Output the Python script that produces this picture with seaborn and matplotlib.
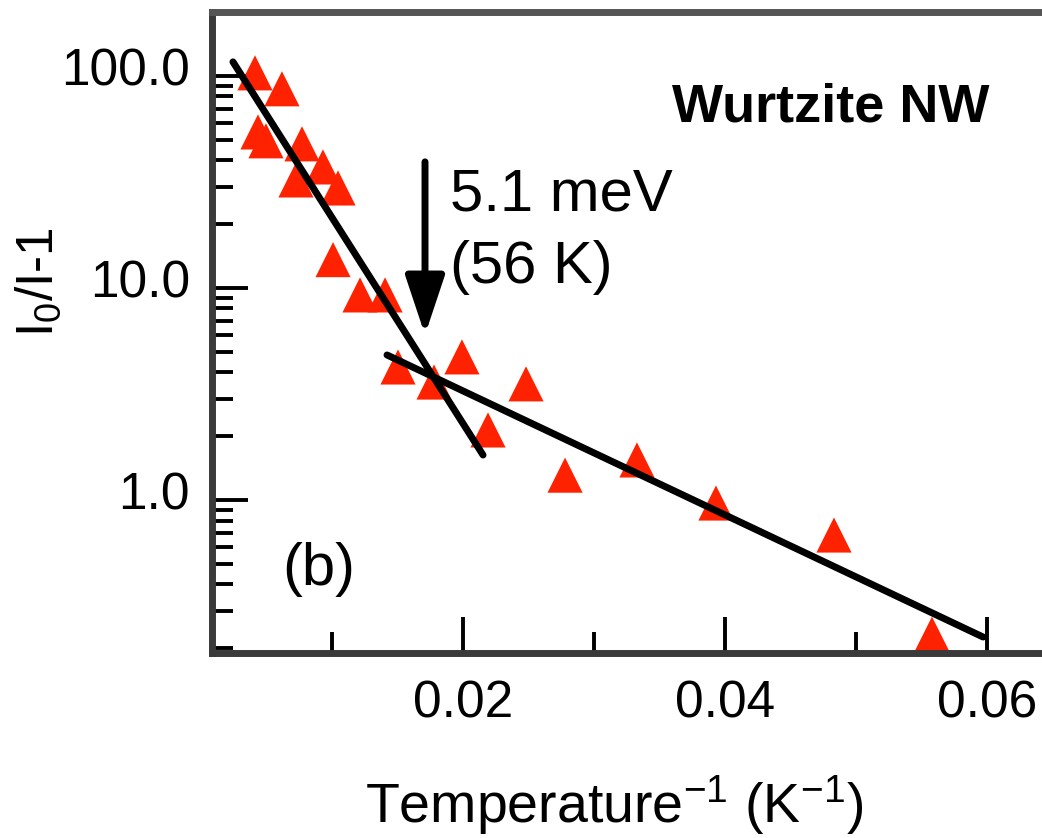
import numpy as np
import pandas as pd
import matplotlib
matplotlib.use("Agg")
import matplotlib.pyplot as plt
import matplotlib.ticker as mticker
import matplotlib.transforms as mtransforms
import seaborn as sns

# ---- data ----
inv_temp = [0.00412, 0.00618, 0.00435, 0.00496, 0.00771, 0.00931, 0.00725,
            0.01046, 0.01008, 0.01214, 0.01405, 0.01504, 0.01992, 0.01779,
            0.02191, 0.02481, 0.02779, 0.03328, 0.03931, 0.04832, 0.0558]
ratio = [103.3, 86.9, 54.4, 49.4, 47.8, 37.2, 32.3,
         29.6, 13.6, 9.27, 9.27, 4.24, 4.73, 3.60,
         2.14, 3.53, 1.31, 1.545, 0.968, 0.684, 0.233]

fit_high_x = [0.00244, 0.02153]
fit_high_y = [116.4, 1.63]
fit_low_x = [0.0142, 0.0597]
fit_low_y = [4.83, 0.226]

xticks_major = [0.02, 0.04, 0.06]
xtick_labels = ["0.02", "0.04", "0.06"]
xticks_minor = [0.01, 0.03, 0.05]
yticks_major = [1, 10, 100]
ytick_labels = ["1.0", "10.0", "100.0"]
yticks_minor = [0.2, 0.3, 0.4, 0.5, 0.6, 0.7, 0.8, 0.9,
                2, 3, 4, 5, 6, 7, 8, 9,
                20, 30, 40, 50, 60, 70, 80, 90]

arrow_x = 0.0171
arrow_y_start = 39.3
arrow_y_end = 6.0

# ---- style ----
sns.set_style("ticks")
plt.rcParams["font.family"] = ["Liberation Sans", "DejaVu Sans"]
plt.rcParams["mathtext.fontset"] = "custom"
plt.rcParams["mathtext.rm"] = "Liberation Sans"
plt.rcParams["mathtext.it"] = "Liberation Sans:italic"
plt.rcParams["mathtext.bf"] = "Liberation Sans:bold"
for k in ["text.color", "axes.labelcolor", "xtick.color", "ytick.color"]:
    plt.rcParams[k] = "black"

W, H = 1042, 838
fig = plt.figure(figsize=(W / 100, H / 100), dpi=100)
left_px, right_px, top_px, bottom_px = 212, 1060, 12, 653
ax = fig.add_axes([left_px / W, (H - bottom_px) / H,
                   (right_px - left_px) / W, (bottom_px - top_px) / H])
ax.set_yscale("log")

df = pd.DataFrame({"x": inv_temp, "y": ratio})
sns.scatterplot(data=df, x="x", y="y", marker="^", s=640, color="#ff2200",
                edgecolor="none", linewidth=0, ax=ax, zorder=2)
sns.lineplot(x=fit_high_x, y=fit_high_y, color="black", lw=5, ax=ax,
             zorder=3, estimator=None, sort=False)
sns.lineplot(x=fit_low_x, y=fit_low_y, color="black", lw=5, ax=ax,
             zorder=3, estimator=None, sort=False)

ax.annotate("", xy=(arrow_x, arrow_y_end), xytext=(arrow_x, arrow_y_start),
            arrowprops=dict(arrowstyle="-|>,head_length=3.6,head_width=1.2",
                            mutation_scale=10, lw=5, color="black",
                            shrinkA=0, shrinkB=0), zorder=4)

ax.text(0.0190, 23.3, "5.1 meV", fontsize=43, va="baseline", ha="left")
ax.text(0.0190, 10.56, "(56 K)", fontsize=43, va="baseline", ha="left")
ax.text(0.03595, 60.7, "Wurtzite NW", fontsize=39, fontweight="bold",
        va="baseline", ha="left")
ax.text(0.00618, 0.397, "(b)", fontsize=43, va="baseline", ha="left")

ax.set_xlim(0.00084, (right_px - 201) / 13100)
ax.set_ylim(0.19, 200)

ax.xaxis.set_major_locator(mticker.FixedLocator(xticks_major))
ax.xaxis.set_major_formatter(mticker.FixedFormatter(xtick_labels))
ax.xaxis.set_minor_locator(mticker.FixedLocator(xticks_minor))
ax.yaxis.set_major_locator(mticker.FixedLocator(yticks_major))
ax.yaxis.set_major_formatter(mticker.FixedFormatter(ytick_labels))
ax.yaxis.set_minor_locator(mticker.FixedLocator(yticks_minor))
ax.yaxis.set_minor_formatter(mticker.NullFormatter())

ax.tick_params(which="both", direction="in", color="black", width=2.8,
               top=False, right=False, labelsize=37, labelcolor="black")
ax.tick_params(which="major", length=26)
ax.tick_params(which="minor", length=15)
ax.tick_params(axis="x", which="major", pad=19)
ax.tick_params(axis="y", which="major", pad=16)

for side in ["left", "bottom"]:
    ax.spines[side].set_linewidth(5)
    ax.spines[side].set_color("#3a3a3a")
ax.spines["top"].set_linewidth(5)
ax.spines["top"].set_color("#555555")
ax.spines["right"].set_visible(False)

ax.set_xlabel(r"Temperature$^{\mathregular{-1}}$ (K$^{\mathregular{-1}}$)",
              fontsize=40, color="black")
ax.set_ylabel(r"I$_{\mathregular{0}}$/I-1", fontsize=37, color="black")
ax.xaxis.label.set_va("baseline")
ax.yaxis.label.set_va("baseline")
ax_w = right_px - left_px
ax_h = bottom_px - top_px
ax.xaxis.set_label_coords((614 - left_px) / ax_w, (bottom_px - 823) / ax_h)
ax.yaxis.set_label_coords((53 - left_px) / ax_w, (bottom_px - 282) / ax_h)

shift = mtransforms.ScaledTranslation(0, 7 / 72, fig.dpi_scale_trans)
for t in ax.yaxis.get_major_ticks():
    t.label1.set_transform(t.label1.get_transform() + shift)

fig.savefig("out.png", dpi=100)
